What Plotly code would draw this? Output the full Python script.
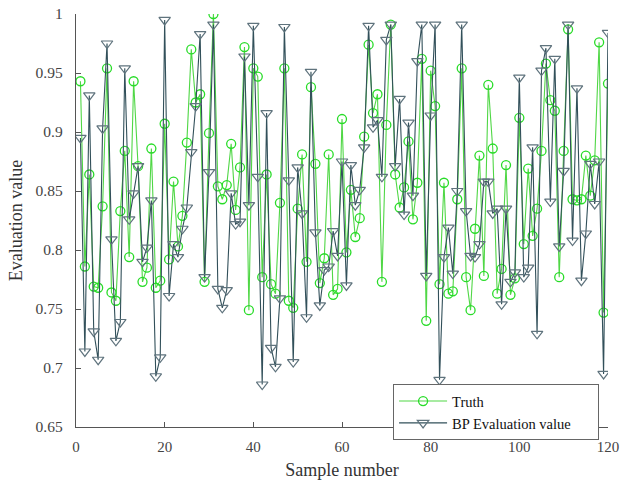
import plotly.graph_objects as go

samples = list(range(1, 121))

truth = [
    0.943, 0.786, 0.864, 0.769, 0.768, 0.837, 0.954, 0.764, 0.757, 0.833,
    0.884, 0.794, 0.943, 0.871, 0.773, 0.785, 0.886, 0.768, 0.774, 0.907,
    0.792, 0.858, 0.803, 0.829, 0.891, 0.970, 0.925, 0.932, 0.773, 0.899,
    1.000, 0.854, 0.843, 0.855, 0.890, 0.834, 0.870, 0.972, 0.749, 0.954,
    0.947, 0.777, 0.864, 0.771, 0.763, 0.840, 0.954, 0.757, 0.751, 0.835,
    0.881, 0.790, 0.938, 0.873, 0.772, 0.793, 0.881, 0.762, 0.767, 0.911,
    0.798, 0.851, 0.811, 0.827, 0.896, 0.974, 0.916, 0.932, 0.773, 0.906,
    0.991, 0.864, 0.836, 0.853, 0.892, 0.826, 0.857, 0.962, 0.740, 0.952,
    0.922, 0.771, 0.857, 0.763, 0.765, 0.843, 0.954, 0.777, 0.749, 0.818,
    0.880, 0.778, 0.940, 0.886, 0.763, 0.784, 0.872, 0.762, 0.776, 0.912,
    0.805, 0.869, 0.812, 0.835, 0.884, 0.958, 0.927, 0.918, 0.777, 0.884,
    0.987, 0.843, 0.842, 0.843, 0.880, 0.846, 0.876, 0.976, 0.747, 0.941,
]

bp_eval = [
    0.895, 0.714, 0.931, 0.731, 0.707, 0.903, 0.975, 0.809, 0.723, 0.739,
    0.954, 0.826, 0.848, 0.871, 0.790, 0.802, 0.842, 0.693, 0.709, 0.995,
    0.761, 0.805, 0.794, 0.818, 0.836, 0.883, 0.922, 0.983, 0.777, 0.866,
    0.991, 0.767, 0.751, 0.766, 0.848, 0.822, 0.824, 0.964, 0.838, 0.990,
    0.862, 0.686, 0.916, 0.717, 0.701, 0.759, 0.989, 0.859, 0.705, 0.870,
    0.831, 0.743, 0.951, 0.815, 0.753, 0.783, 0.786, 0.816, 0.795, 0.875,
    0.770, 0.872, 0.838, 0.851, 0.887, 0.990, 0.904, 0.910, 0.862, 0.978,
    0.991, 0.871, 0.928, 0.830, 0.908, 0.846, 0.960, 0.991, 0.778, 0.914,
    0.991, 0.690, 0.794, 0.819, 0.780, 0.850, 0.991, 0.833, 0.795, 0.794,
    0.805, 0.858, 0.858, 0.831, 0.835, 0.754, 0.835, 0.773, 0.781, 0.946,
    0.777, 0.785, 0.887, 0.729, 0.952, 0.971, 0.841, 0.962, 0.803, 0.867,
    0.991, 0.808, 0.937, 0.774, 0.814, 0.873, 0.839, 0.875, 0.695, 0.984,
]

x_ticks = [0, 20, 40, 60, 80, 100, 120]
y_ticks = [0.65, 0.7, 0.75, 0.8, 0.85, 0.9, 0.95, 1.0]
y_tick_text = ["0.65", "0.7", "0.75", "0.8", "0.85", "0.9", "0.95", "1"]

FONT = "Liberation Serif, Times New Roman, serif"
PAD = "\u00a0" * 6  # widens the legend box like the reference

fig = go.Figure()
fig.add_trace(go.Scatter(
    x=samples, y=truth, name="Truth", mode="lines+markers",
    line=dict(color="rgb(80,215,70)", width=1.1),
    marker=dict(symbol="circle-open", size=9, color="rgb(40,220,40)",
                line=dict(width=1.3)),
))
fig.add_trace(go.Scatter(
    x=samples, y=bp_eval, name="BP Evaluation value" + PAD, mode="lines+markers",
    line=dict(color="rgb(50,80,90)", width=1.1),
    marker=dict(symbol="triangle-down-open", size=10, color="rgb(95,115,125)",
                line=dict(width=1.2)),
))

fig.update_layout(
    width=620, height=481,
    margin=dict(l=76, r=12, t=14, b=54, autoexpand=False),
    paper_bgcolor="white", plot_bgcolor="white",
    font=dict(family=FONT, size=15, color="#333"),
    showlegend=True,
    legend=dict(
        x=0.596, y=0.036, xanchor="left", yanchor="middle",
        bgcolor="white", bordercolor="#666", borderwidth=1,
        font=dict(family=FONT, size=14.5, color="#111"),
        tracegroupgap=0, itemwidth=48,
    ),
)
fig.update_xaxes(
    range=[0, 120], tickvals=x_ticks, showgrid=False, zeroline=False,
    showline=True, linecolor="#555", linewidth=1.2,
    ticks="inside", ticklen=5, tickcolor="#555",
    tickfont=dict(family=FONT, size=15, color="#444"),
    ticklabelstandoff=6, automargin=False, ticklabeloverflow="allow",
    title=dict(text="Sample number", font=dict(family=FONT, size=18, color="#333"), standoff=9),
)
fig.update_yaxes(
    range=[0.65, 1.0], tickvals=y_ticks, ticktext=y_tick_text,
    showgrid=False, zeroline=False,
    showline=True, linecolor="#555", linewidth=1.2,
    ticks="inside", ticklen=5, tickcolor="#555",
    tickfont=dict(family=FONT, size=15.5, color="#444"),
    ticklabelstandoff=9, automargin=False, ticklabeloverflow="allow",
    title=dict(text="Evaluation value", font=dict(family=FONT, size=18, color="#333"), standoff=8),
)

# Remove the browser's default 8px body margin so the 620x481 figure fills the window.
fig.write_html(
    "out.html",
    config=dict(displayModeBar=False, staticPlot=True),
    post_script="document.body.style.margin='0';document.body.style.overflow='hidden';",
)
